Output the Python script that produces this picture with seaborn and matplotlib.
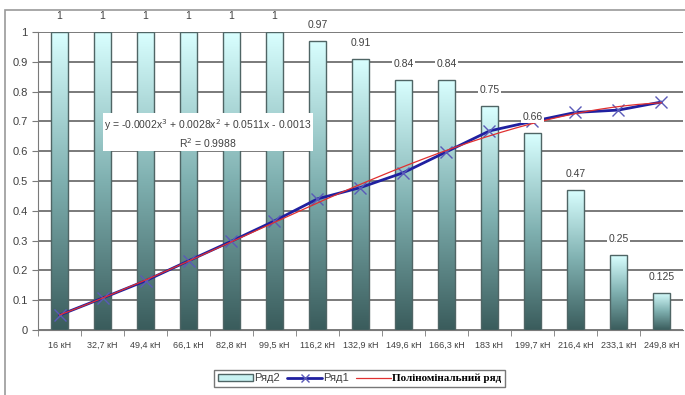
import numpy as np
import pandas as pd
import matplotlib
matplotlib.use("Agg")
import matplotlib.pyplot as plt
import seaborn as sns
from matplotlib.colors import LinearSegmentedColormap
from matplotlib.lines import Line2D
from matplotlib.patches import Patch, Rectangle

# --- data ---
loads = ["16 кН", "32,7 кН", "49,4 кН", "66,1 кН", "82,8 кН", "99,5 кН", "116,2 кН",
         "132,9 кН", "149,6 кН", "166,3 кН", "183 кН", "199,7 кН", "216,4 кН",
         "233,1 кН", "249,8 кН"]
series2 = [1, 1, 1, 1, 1, 1, 0.97, 0.91, 0.84, 0.84, 0.75, 0.66, 0.47, 0.25, 0.125]
series1 = [0.05, 0.107, 0.165, 0.232, 0.298, 0.366, 0.44, 0.478, 0.528, 0.598,
           0.668, 0.70, 0.73, 0.738, 0.765]
bar_labels = ["1", "1", "1", "1", "1", "1", "0.97", "0.91", "0.84", "0.84",
              "0.75", "0.66", "0.47", "0.25", "0.125"]

df = pd.DataFrame({"load": loads, "r2": series2, "r1": series1})

sns.set_style("white")
plt.rcParams["font.family"] = ["Liberation Sans", "DejaVu Sans"]

fig = plt.figure(figsize=(6.85, 3.95), dpi=100)
ax = fig.add_axes([0.0555, 0.1646, 0.9415, 0.7544])

# outer chart frame (only top and left edges are visible in the crop)
fig.patches.append(Rectangle((0.007, -0.05), 1.2, 1.025, transform=fig.transFigure,
                             fill=False, edgecolor="#9a9a9a", lw=1.2))

sns.barplot(data=df, x="load", y="r2", ax=ax, width=0.4, color="#9fd8d8",
            edgecolor="#4f6565", linewidth=1.0, zorder=2)

# vertical gradient inside each bar (light cyan top -> dark teal bottom)
grad_cmap = LinearSegmentedColormap.from_list("bar", ["#3a5c5c", "#7fb0b0", "#d9ffff"])
grad = np.linspace(0, 1, 256).reshape(-1, 1)
for p in ax.patches:
    x0, y0 = p.get_x(), p.get_y()
    w, h = p.get_width(), p.get_height()
    im = ax.imshow(grad, cmap=grad_cmap, origin="lower", aspect="auto",
                   extent=[x0, x0 + w, y0, y0 + h], zorder=2.1)
    im.set_clip_path(p)
    p.set_facecolor("none")
    p.set_zorder(2.2)

xpos = np.arange(len(loads))

# Ряд1 line with x markers
ax.plot(xpos, series1, color="#2020a0", lw=2.0, marker="x", markersize=9,
        markeredgecolor="#5a5ab8", markeredgewidth=1.0, zorder=4)

# 3rd degree polynomial trend (Excel trend line)
coef = np.polyfit(xpos + 1, series1, 3)
xs = np.linspace(1, len(loads), 200)
ax.plot(xs - 1, np.polyval(coef, xs), color="#e03030", lw=0.9, zorder=4.5)

# value labels above bars
for i, (v, lab) in enumerate(zip(series2, bar_labels)):
    ax.annotate(lab, (i, v), xytext=(0, 8), textcoords="offset points",
                ha="center", va="bottom", fontsize=7.5, color="#404040",
                annotation_clip=False, zorder=5,
                bbox=dict(boxstyle="square,pad=0.1", fc="white", ec="none"))

# equation box
ax.text(3.45, 0.66, "y = -0.0002x$^3$ + 0.0028x$^2$ + 0.0511x - 0.0013\nR$^2$ = 0.9988",
        ha="center", va="center", fontsize=7.5, color="#404040", zorder=6,
        linespacing=1.3,
        bbox=dict(boxstyle="square,pad=0.15", fc="white", ec="none"))

ax.set_xlim(-0.5, len(loads) - 0.5)
ax.set_ylim(0, 1)
ax.set_yticks(np.arange(0, 1.01, 0.1))
ax.set_yticklabels(["0", "0.1", "0.2", "0.3", "0.4", "0.5", "0.6", "0.7", "0.8", "0.9", "1"])
ax.grid(axis="y", color="#7a7a7a", lw=1.4, zorder=0)
ax.set_axisbelow(True)
ax.set_xlabel("")
ax.set_ylabel("")

for s in ["top", "right"]:
    ax.spines[s].set_visible(False)
ax.spines["left"].set_color("#7a7a7a")
ax.spines["bottom"].set_color("#7a7a7a")

ax.tick_params(axis="y", labelsize=8, colors="#404040", length=4, direction="out",
               left=True, color="#7a7a7a")
ax.tick_params(axis="x", labelsize=6.5, colors="#404040", length=0, pad=8)
ax.set_xticks(xpos - 0.5, minor=True)
ax.tick_params(axis="x", which="minor", bottom=True, length=4, direction="out",
               color="#7a7a7a")

handles = [
    Patch(facecolor="#c8f2f2", edgecolor="#4f6565", lw=1.0, label="Ряд2"),
    Line2D([], [], color="#2020a0", lw=2, marker="x", markersize=6,
           markeredgecolor="#5a5ab8", label="Ряд1"),
    Line2D([], [], color="#e03030", lw=0.9, label="Полiномiнальний ряд"),
]
leg = fig.legend(handles=handles, loc="center", bbox_to_anchor=(0.525, 0.042), ncol=3,
                 fontsize=8, frameon=True, fancybox=False, edgecolor="#555555",
                 handlelength=3.2, handletextpad=0.1, columnspacing=0.6,
                 borderpad=0.3, handleheight=0.7)
leg.get_frame().set_linewidth(1.0)
for t in leg.get_texts():
    t.set_color("#404040")
leg.get_texts()[2].set_fontfamily(["Liberation Serif", "DejaVu Serif"])
leg.get_texts()[2].set_fontweight("bold")
leg.get_texts()[2].set_color("black")

fig.savefig("out.png", dpi=100)
